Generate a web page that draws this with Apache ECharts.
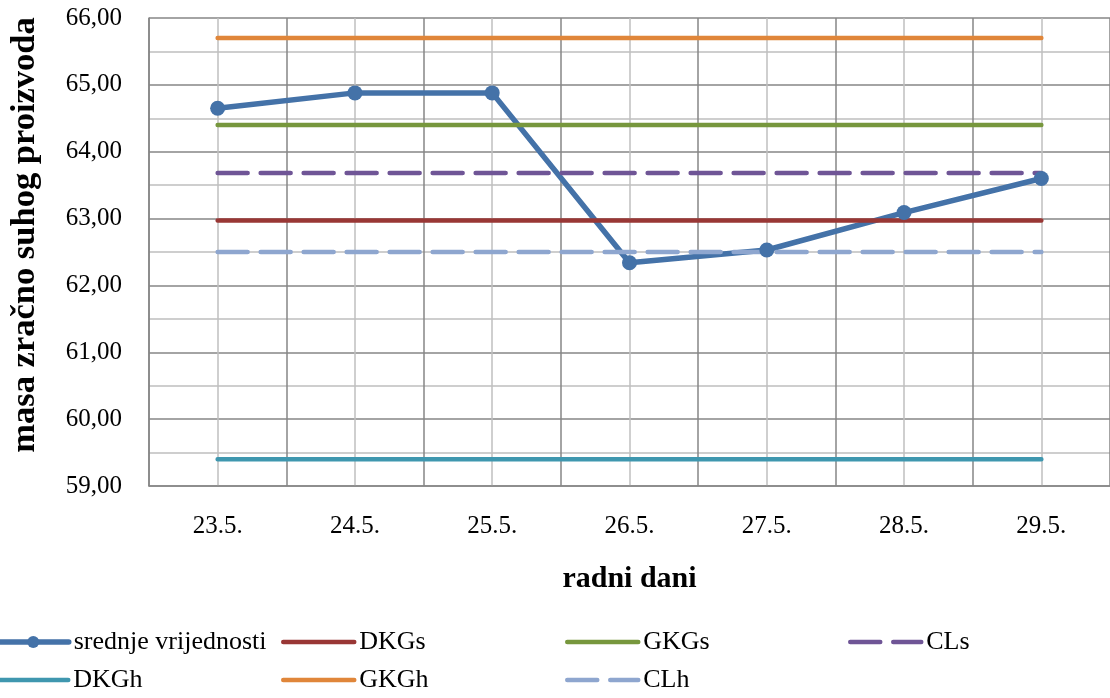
<!DOCTYPE html>
<html>
<head>
<meta charset="utf-8">
<script src="https://cdn.jsdelivr.net/npm/echarts@6/dist/echarts.min.js"></script>
<style>
html,body{margin:0;padding:0;background:#fff;}
#chart{width:1110px;height:698px;}
</style>
</head>
<body>
<div id="chart"></div>
<script>
const categories = ['23.5.', '24.5.', '25.5.', '26.5.', '27.5.', '28.5.', '29.5.'];
const srednjeVrijednosti = [64.65, 64.88, 64.88, 62.34, 62.53, 63.09, 63.60];
const DKGs = [62.97, 62.97, 62.97, 62.97, 62.97, 62.97, 62.97];
const GKGs = [64.40, 64.40, 64.40, 64.40, 64.40, 64.40, 64.40];
const CLs = [63.68, 63.68, 63.68, 63.68, 63.68, 63.68, 63.68];
const DKGh = [59.40, 59.40, 59.40, 59.40, 59.40, 59.40, 59.40];
const GKGh = [65.70, 65.70, 65.70, 65.70, 65.70, 65.70, 65.70];
const CLh = [62.50, 62.50, 62.50, 62.50, 62.50, 62.50, 62.50];
const yMin = 59, yMax = 66, yStep = 1;

const FONT = '"Liberation Serif", "Times New Roman", serif';
const chart = echarts.init(document.getElementById('chart'), null, {renderer: 'canvas'});

function constSeries(name, data, color, dashed) {
  return {
    name: name, type: 'line', data: data, xAxisIndex: 0,
    symbol: 'none', showSymbol: false, animation: false,
    lineStyle: {color: color, width: 4.5, cap: 'round', type: dashed ? [30, 13] : 'solid'},
    itemStyle: {color: color}
  };
}

function legendAt(name, left, top, withMarker) {
  return {
    data: [name], left: left, top: top, padding: 0,
    itemWidth: 71, itemHeight: 15, selectedMode: false,
    itemStyle: withMarker ? {} : {opacity: 0},
    lineStyle: {width: withMarker ? 5.5 : 4.5, cap: 'round', type: 'inherit'},
    textStyle: {fontFamily: FONT, fontSize: 26, color: '#000'}
  };
}

const option = {
  backgroundColor: '#fff',
  animation: false,
  grid: {left: 145, top: 18, width: 968, height: 468, containLabel: false},
  legend: [
    legendAt('srednje vrijednosti', -5, 629, true),
    legendAt('DKGs', 281, 629, false),
    legendAt('GKGs', 565, 629, false),
    legendAt('CLs', 848, 629, false),
    legendAt('DKGh', -5, 667, false),
    legendAt('GKGh', 281, 667, false),
    legendAt('CLh', 565, 667, false)
  ],
  xAxis: [{
    type: 'category', data: categories, boundaryGap: true,
    name: 'radni dani', nameLocation: 'middle', nameGap: 78,
    nameTextStyle: {fontFamily: FONT, fontSize: 30, fontWeight: 'bold', color: '#000'},
    axisLine: {show: true, lineStyle: {color: '#868686', width: 1.5}},
    axisTick: {show: false},
    axisLabel: {margin: 28, fontFamily: FONT, fontSize: 25, color: '#000'},
    splitLine: {show: false}
  }, {
    type: 'value', min: 0, max: 14, interval: 1, position: 'bottom',
    axisLine: {show: false}, axisTick: {show: false}, axisLabel: {show: false},
    splitLine: {show: true, lineStyle: {color: ['#868686', '#BFBFBF'], width: 1.5}}
  }],
  yAxis: {
    type: 'value', min: yMin, max: yMax, interval: yStep,
    name: 'masa zračno suhog proizvoda', nameLocation: 'middle', nameGap: 106,
    nameTextStyle: {fontFamily: FONT, fontSize: 34.5, fontWeight: 'bold', color: '#000', padding: [0, 0, 0, 34]},
    axisLine: {show: true, lineStyle: {color: '#868686', width: 1.5}},
    axisTick: {show: false},
    axisLabel: {margin: 27, fontFamily: FONT, fontSize: 25, color: '#000',
      formatter: v => v.toFixed(2).replace('.', ',')},
    splitLine: {show: true, lineStyle: {color: '#868686', width: 1.5}},
    minorTick: {show: false, splitNumber: 2},
    minorSplitLine: {show: true, lineStyle: {color: '#BFBFBF', width: 1.5}}
  },
  series: [
    {
      name: 'srednje vrijednosti', type: 'line', data: srednjeVrijednosti, xAxisIndex: 0,
      symbol: 'circle', symbolSize: 15, showSymbol: true,
      lineStyle: {color: '#4472A8', width: 5.5, cap: 'round'},
      itemStyle: {color: '#4472A8'}
    },
    constSeries('DKGs', DKGs, '#993735', false),
    constSeries('GKGs', GKGs, '#77973D', false),
    constSeries('CLs', CLs, '#6F5596', true),
    constSeries('DKGh', DKGh, '#3F97AF', false),
    constSeries('GKGh', GKGh, '#E0863A', false),
    constSeries('CLh', CLh, '#8EA6CF', true)
  ]
};
chart.setOption(option);
</script>
</body>
</html>
